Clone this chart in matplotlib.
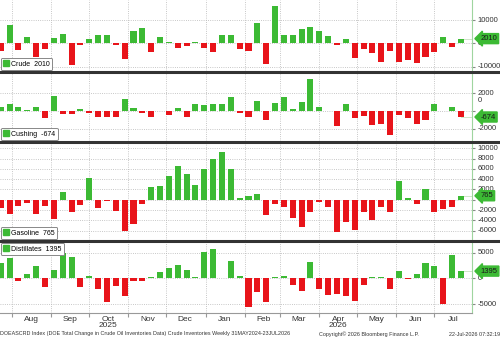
import pandas as pd
import matplotlib
matplotlib.use("Agg")
import matplotlib.pyplot as plt
import matplotlib.dates as mdates
import matplotlib.transforms as mtransforms
from matplotlib.patches import Patch
from matplotlib.lines import Line2D

plt.rcParams['font.family'] = ['Liberation Sans', 'DejaVu Sans']

# weekly DOE changes (thousand barrels)
dates = pd.date_range("2025-07-23", periods=53, freq="7D")

crude = [-3100, 7900, -2900, 2900, -5700, -2400, 2400, 4000, -9300, -600,
         1900, 3700, 3600, -800, -6700, 5300, 6400, -3600, 2600, 600,
         -1900, -1100, 400, -1900, -3900, 3400, 3400, -2300, -3400, 8600,
         -9100, 16000, 3400, 3700, 6000, 6900, 5400, 3000, -900, 1700,
         -6400, -2300, -4300, -8000, -3300, -8100, -7300, -8300, -6100, -3900,
         2900, -1700, 2010]
cushing = [400, 750, 500, 100, 450, -750, 1700, -300, -300, 200,
           -220, -700, -700, -700, 1400, 330, -260, -640, 50, -400,
           330, -700, 750, 640, 750, 750, 1570, -190, -640, 1100,
           -1000, 950, 1600, 200, 1000, 3600, 500, 30, -1650, 800,
           -730, -540, -1620, -1480, -2700, -500, -730, -1480, -1000, 770,
           30, 470, -674]
gasoline = [-1550, -2700, -1300, -700, -2700, -1250, -3700, 1400, -2300, -1000,
            4300, -1550, -260, -2100, -6000, -4800, -900, 2400, 2650, 4650,
            6500, 4900, 2900, 6000, 7900, 9200, 6000, 260, 700, 1200,
            -3050, -900, -1500, -3550, -5300, -2400, -400, -1450, -6200, -4400,
            -5900, -2400, -3900, -1400, -2350, 3550, 250, -830, 2150, -2300,
            -1800, -1400, 765]
distillates = [2900, 3900, -520, 780, 2400, -1740, 1700, 4850, 4130, -1600,
               520, -2000, -4520, -1420, -3360, -580, -580, 190, 1160, 2070,
               2580, 1680, 190, 5040, 5620, 60, 3360, 450, -5500, -2600,
               -4600, 260, 450, -1350, -2450, 3100, -2050, -3160, -3030, -3420,
               -4450, -1230, 200, 320, -2060, 1480, -200, 900, 3030, 2450,
               -5030, 4520, 1395]

names = ["Crude", "Cushing", "Gasoline", "Distillates"]
series = [crude, cushing, gasoline, distillates]
yticks = [[-10000, 0, 10000], [-2000, 0, 2000],
          [-6000, -4000, -2000, 0, 2000, 4000, 6000, 8000, 10000],
          [-5000, 0, 5000]]

GREEN = "#3cba34"
RED = "#e8141a"
W, H = 500, 339
rows_px = [(0, 71), (73, 141), (143, 240), (242, 313)]
ylims = [(-11900, 18600), (-3370, 4270), (-7825, 11010), (-6725, 7035)]
legend_loc = ["lower left", "lower left", "lower left", "upper left"]

fig = plt.figure(figsize=(W / 100, H / 100), dpi=100)
xmin = dates[0] - pd.Timedelta(days=0.6)
xmax = dates[0] + pd.Timedelta(days=372.8)

axes = []
for i, (name, vals) in enumerate(zip(names, series)):
    top, bot = rows_px[i]
    ax = fig.add_axes([0, 1 - bot / H, 472 / W, (bot - top) / H])
    axes.append(ax)
    cols = [GREEN if v >= 0 else RED for v in vals]
    ax.bar(dates, vals, width=4.8, color=cols, zorder=3)
    last = vals[-1]
    ax.plot([dates[-1], xmax], [last, last], color="#cfe6c8", lw=0.7, zorder=2)
    ax.set_xlim(xmin, xmax)
    ax.set_ylim(*ylims[i])
    ax.set_yticks(yticks[i])
    ax.yaxis.tick_right()
    ax.tick_params(axis="y", length=2, color="#888888", labelright=False)
    ax.xaxis.set_major_locator(mdates.MonthLocator())
    ax.grid(True, ls=":", color="#b5b5b5", lw=0.6, zorder=0)
    for s in ["left", "top", "bottom"]:
        ax.spines[s].set_visible(False)
    ax.spines["right"].set_color("#9fd59f")
    ax.spines["right"].set_linewidth(0.8)

    trans = mtransforms.blended_transform_factory(ax.transAxes, ax.transData)
    for t in yticks[i]:
        yv = t
        if name == "Cushing" and t == 0:
            yv = 1160
        ax.annotate(f"{t}", xy=(1, yv), xycoords=trans, xytext=(4, 0),
                    textcoords="offset points", ha="left", va="center",
                    fontsize=5.5, color="#333333", annotation_clip=False)
    ax.annotate(f"{last}", xy=(1, last), xycoords=trans, xytext=(6, 0),
                textcoords="offset points", ha="left", va="center",
                fontsize=5.5, color="#1a1a1a", annotation_clip=False, zorder=5,
                bbox=dict(boxstyle="larrow,pad=0.2", fc=GREEN, ec=GREEN))

    leg = ax.legend(handles=[Patch(color=GREEN)], labels=[f"{name}  {last}"],
                    loc=legend_loc[i], fontsize=5, handlelength=0.8,
                    handleheight=0.8, handletextpad=0.3, borderpad=0.35,
                    borderaxespad=0.15, fancybox=True, framealpha=1)
    leg.get_frame().set_edgecolor("#888888")
    leg.get_frame().set_linewidth(0.7)

    if i < 3:
        ax.tick_params(axis="x", which="both", length=0, labelbottom=False)

ax4 = axes[-1]
ax4.spines["bottom"].set_visible(True)
ax4.spines["bottom"].set_color("#999999")
ax4.xaxis.set_minor_locator(mdates.MonthLocator(bymonthday=16))
ax4.xaxis.set_major_formatter(plt.NullFormatter())
ax4.xaxis.set_minor_formatter(mdates.DateFormatter("%b"))
ax4.tick_params(axis="x", which="major", length=3, color="#999999")
ax4.tick_params(axis="x", which="minor", length=0, labelsize=6,
                labelcolor="#333333", pad=2)
for d, yr in [("2025-10-16", "2025"), ("2026-04-16", "2026")]:
    ax4.text(pd.Timestamp(d), -0.125, yr,
             transform=mtransforms.blended_transform_factory(ax4.transData, ax4.transAxes),
             ha="center", va="top", fontsize=6, color="#333333")

for ypx in [72, 142, 241]:
    fig.add_artist(Line2D([0, 1], [1 - ypx / H] * 2, transform=fig.transFigure,
                          color="#333333", lw=2.2))

fy = 1 - 334 / H
fig.text(0.0, fy, "DOEASCRD Index (DOE Total Change in Crude Oil Inventories Data) "
         "Crude Inventories Weekly 31MAY2024-23JUL2026",
         fontsize=3.9, color="#333333", va="center", ha="left")
fig.text(319 / W, fy, "Copyright\u00a9 2026 Bloomberg Finance L.P.",
         fontsize=3.9, color="#333333", va="center", ha="left")
fig.text(1.0, fy, "22-Jul-2026 07:32:19", fontsize=3.9, color="#333333",
         va="center", ha="right")

fig.savefig("out.png", dpi=100)
